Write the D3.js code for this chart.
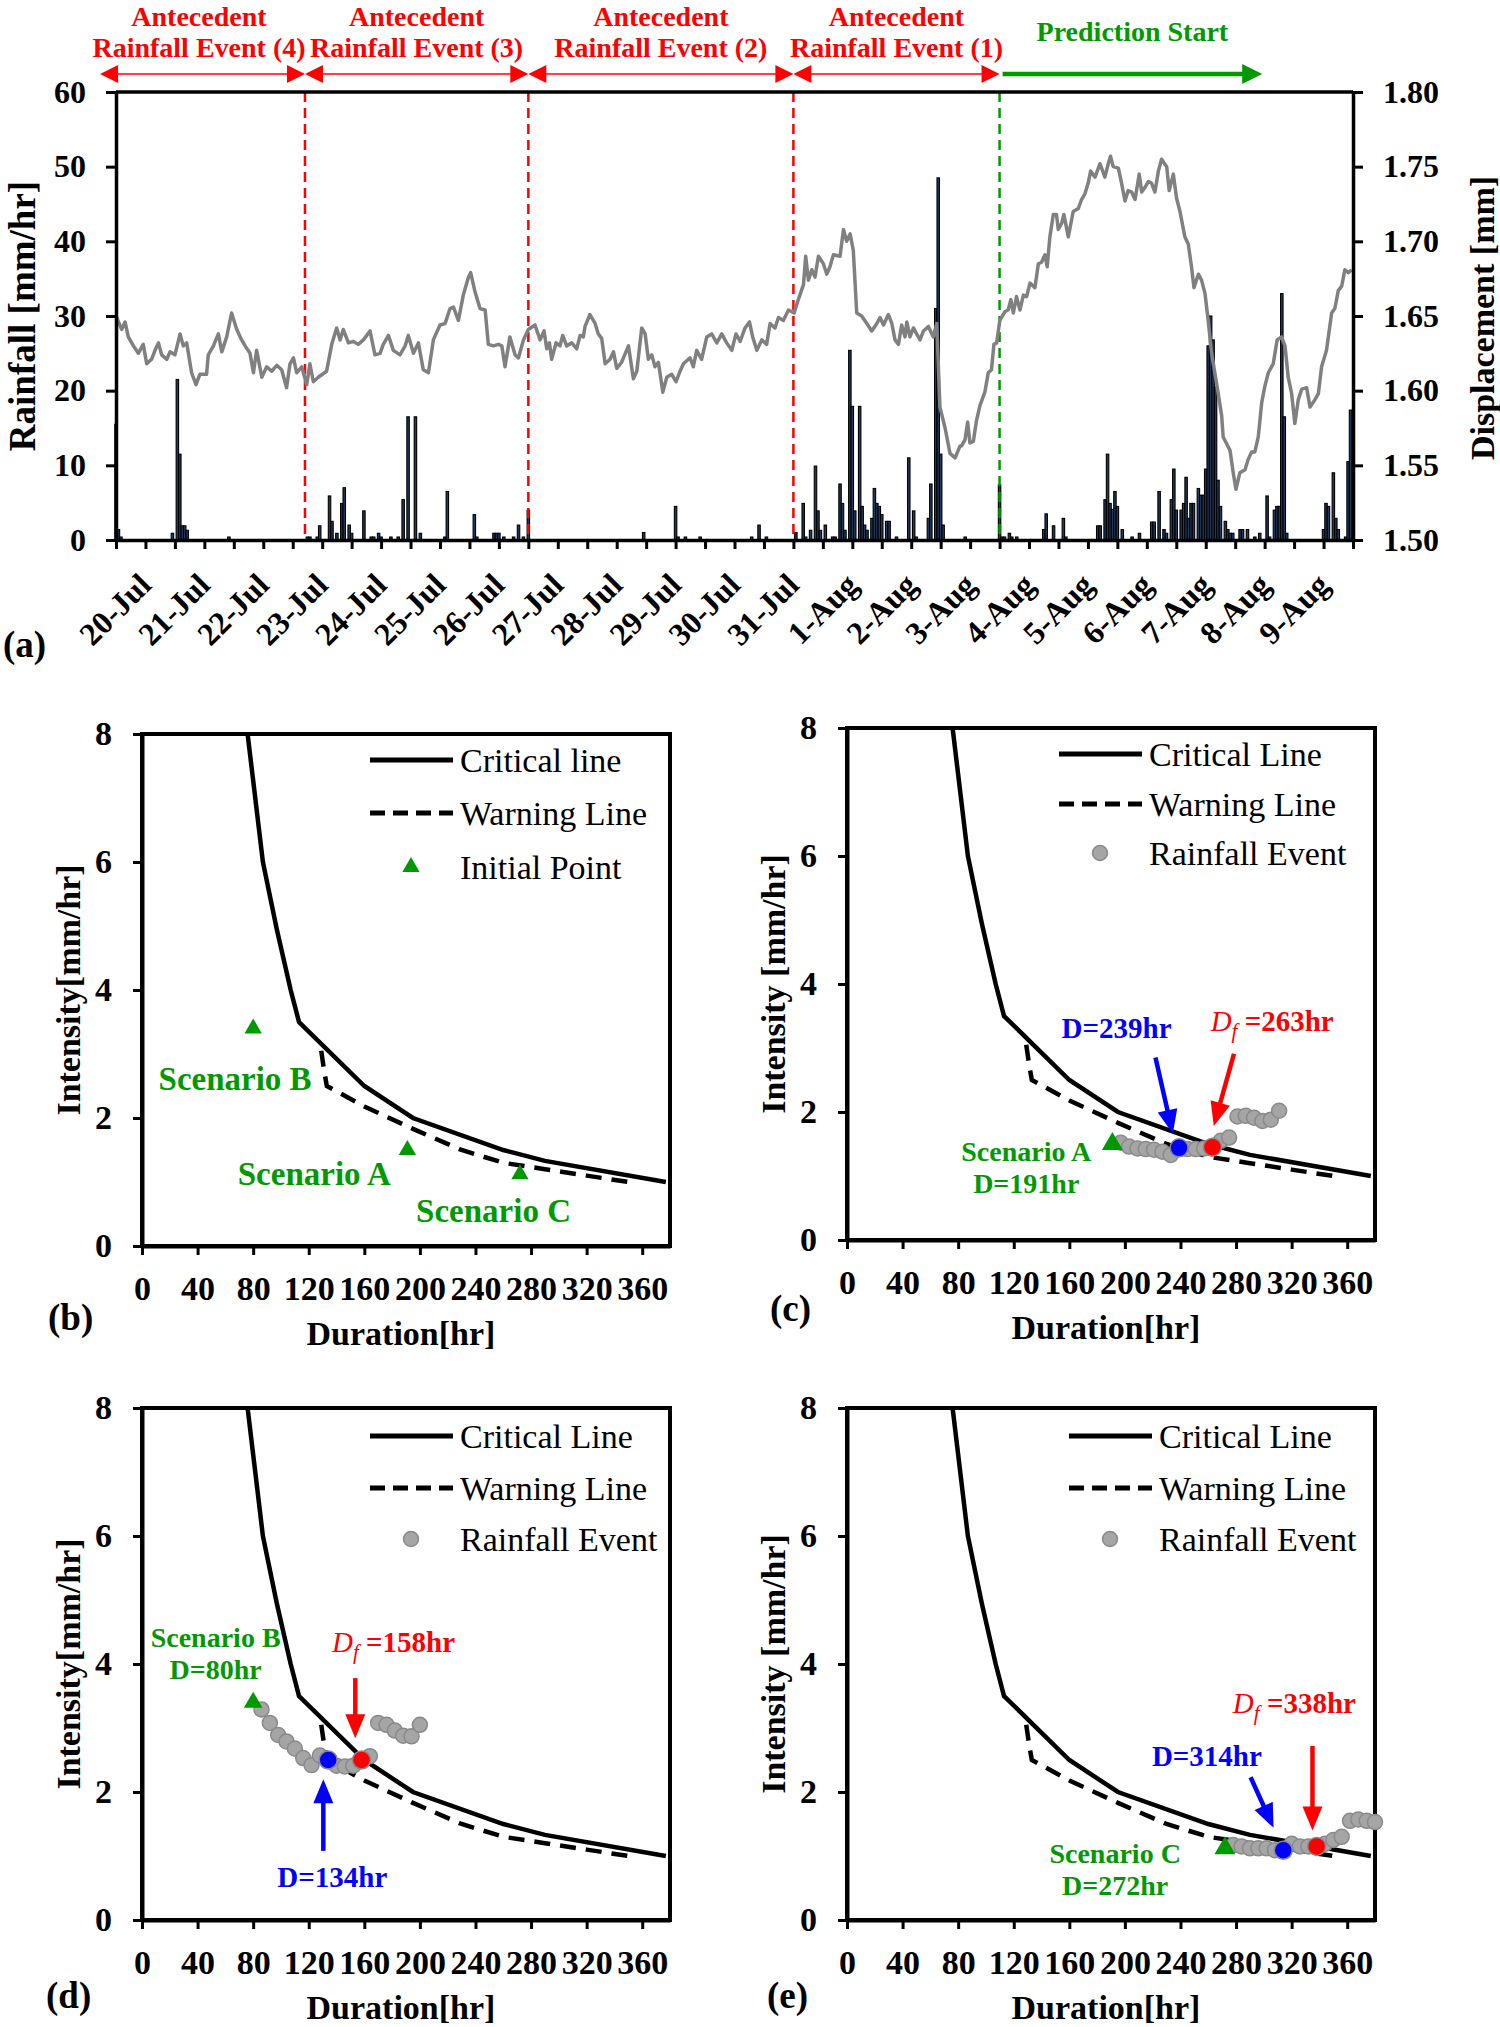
<!DOCTYPE html>
<html>
<head>
<meta charset="utf-8">
<script src="https://cdn.jsdelivr.net/npm/d3@7"></script>
<style>
  body { margin: 0; background: #fff; }
  svg { display: block; background: #fff; }
</style>
</head>
<body>
<div id="chart"></div>
<script>
// ---------- panel (a): hours counted from 19-Jul 12:00 ----------
const dispHour = [0, 2.3, 3.7, 5.0, 7.1, 9.1, 11.1, 12.5, 14.5, 15.9, 17.3, 18.6, 20.7, 22.0, 24.0, 26.1, 27.4, 28.8, 30.8, 32.6,
  34.2, 36.9, 37.6, 39.7, 41.7, 43.1, 45.1, 47.1, 49.2, 51.2, 52.6, 54.6, 56.0, 57.3, 59.4, 61.4, 63.4, 65.5, 67.5, 69.5,
  70.9, 72.3, 73.6, 75.7, 77.7, 79.0, 80.4, 82.4, 85.8, 87.9, 89.9, 91.3, 92.6, 94.7, 96.7, 98.7, 100.8, 103.5, 105.5, 107.6,
  108.9, 111.0, 113.0, 115.7, 117.8, 119.1, 121.2, 123.2, 125.2, 127.3, 129.3, 132.0, 134.1, 136.1, 137.5, 139.5, 141.5, 143.6, 144.5, 146.3,
  148.3, 150.4, 151.7, 153.8, 155.8, 157.2, 158.5, 160.5, 162.6, 164.0, 166.0, 168.0, 170.7, 172.8, 174.4, 175.5, 176.6, 177.5, 179.3, 180.9,
  182.0, 183.6, 185.7, 187.7, 189.1, 190.4, 191.1, 193.1, 195.2, 196.5, 197.9, 199.3, 201.3, 202.7, 204.0, 206.0, 208.8, 210.8, 212.2, 214.2,
  215.6, 216.9, 218.3, 219.6, 221.0, 222.8, 224.4, 226.4, 228.2, 229.8, 231.2, 233.9, 235.2, 236.6, 238.6, 240.7, 242.7, 244.8, 246.8, 248.8,
  250.9, 252.6, 254.3, 256.3, 258.1, 259.4, 261.1, 263.1, 265.1, 266.5, 268.5, 269.9, 271.9, 274.0, 276.3, 278.0, 280.1, 281.0, 282.1, 283.5,
  284.8, 286.2, 288.2, 289.6, 290.9, 292.3, 295.0, 296.4, 297.7, 299.1, 300.4, 301.8, 303.8, 305.9, 307.9, 310.0, 311.3, 312.7, 314.7, 316.1,
  317.4, 318.8, 320.1, 321.5, 322.2, 323.5, 324.9, 326.2, 327.6, 329.0, 331.0, 333.0, 334.4, 335.7, 337.8, 339.8, 341.9, 343.9, 344.5, 345.9,
  347.0, 347.9, 349.3, 350.6, 352.0, 354.0, 355.4, 356.7, 357.7, 358.8, 360.1, 362.2, 363.5, 364.6, 365.6, 366.9, 368.3, 369.7, 371.0, 372.4,
  374.4, 375.8, 377.1, 378.5, 379.4, 380.5, 381.9, 383.2, 383.9, 385.3, 386.2, 388.0, 390.0, 392.1, 393.4, 394.8, 396.1, 397.1, 398.9, 400.9,
  402.9, 404.3, 405.2, 406.3, 408.4, 409.7, 411.1, 412.4, 413.8, 415.2, 416.9, 417.9, 419.2, 420.6, 421.9, 423.3, 424.7, 426.0, 428.1, 429.1,
  430.8, 432.1, 433.5, 435.5, 436.9, 438.2, 439.2, 441.0, 442.3, 443.7, 445.0, 446.4, 447.7, 449.1, 450.5, 451.1, 453.9, 455.2, 456.3, 457.9,
  460.0, 461.3, 462.7, 464.0, 465.4, 466.8, 468.1, 469.5, 471.5, 473.1, 474.9, 476.3, 477.6, 479.0, 480.3, 481.7, 483.1, 485.1, 486.5, 488.5,
  489.9, 491.2, 493.2, 495.3, 496.6, 498.0, 499.4, 500.7, 502.1, 503.4];
const dispMm = [1.650, 1.641, 1.646, 1.636, 1.630, 1.625, 1.631, 1.618, 1.621, 1.627, 1.632, 1.624, 1.621, 1.626, 1.624, 1.638, 1.630, 1.632, 1.612, 1.604,
  1.611, 1.611, 1.624, 1.630, 1.638, 1.626, 1.636, 1.652, 1.641, 1.634, 1.630, 1.625, 1.612, 1.627, 1.609, 1.616, 1.613, 1.617, 1.614, 1.602,
  1.618, 1.622, 1.612, 1.616, 1.604, 1.618, 1.606, 1.609, 1.613, 1.631, 1.642, 1.634, 1.641, 1.632, 1.633, 1.631, 1.634, 1.640, 1.624, 1.625,
  1.631, 1.637, 1.627, 1.624, 1.630, 1.637, 1.625, 1.632, 1.614, 1.612, 1.634, 1.644, 1.645, 1.655, 1.656, 1.647, 1.664, 1.676, 1.679, 1.666,
  1.655, 1.654, 1.631, 1.630, 1.631, 1.630, 1.616, 1.636, 1.624, 1.622, 1.634, 1.641, 1.644, 1.634, 1.640, 1.628, 1.632, 1.621, 1.632, 1.630,
  1.637, 1.630, 1.632, 1.628, 1.637, 1.636, 1.643, 1.651, 1.645, 1.638, 1.635, 1.618, 1.621, 1.626, 1.615, 1.619, 1.630, 1.608, 1.613, 1.642,
  1.638, 1.621, 1.624, 1.616, 1.619, 1.599, 1.609, 1.611, 1.606, 1.613, 1.618, 1.622, 1.616, 1.627, 1.621, 1.636, 1.638, 1.632, 1.638, 1.632,
  1.627, 1.638, 1.633, 1.642, 1.646, 1.636, 1.627, 1.634, 1.631, 1.645, 1.642, 1.649, 1.647, 1.654, 1.652, 1.661, 1.671, 1.690, 1.674, 1.681,
  1.676, 1.690, 1.685, 1.678, 1.683, 1.691, 1.690, 1.708, 1.700, 1.705, 1.694, 1.652, 1.650, 1.645, 1.640, 1.645, 1.649, 1.644, 1.651, 1.645,
  1.634, 1.631, 1.644, 1.636, 1.646, 1.636, 1.642, 1.638, 1.634, 1.640, 1.643, 1.636, 1.645, 1.589, 1.575, 1.558, 1.555, 1.563, 1.563, 1.567,
  1.579, 1.565, 1.566, 1.580, 1.590, 1.599, 1.612, 1.614, 1.631, 1.632, 1.647, 1.653, 1.654, 1.661, 1.652, 1.663, 1.654, 1.664, 1.663, 1.672,
  1.669, 1.685, 1.686, 1.691, 1.683, 1.703, 1.718, 1.718, 1.708, 1.712, 1.718, 1.703, 1.720, 1.722, 1.728, 1.732, 1.739, 1.747, 1.743, 1.752,
  1.743, 1.752, 1.757, 1.750, 1.749, 1.739, 1.727, 1.734, 1.733, 1.728, 1.745, 1.733, 1.736, 1.740, 1.739, 1.733, 1.747, 1.755, 1.750, 1.734,
  1.745, 1.729, 1.720, 1.703, 1.698, 1.683, 1.669, 1.678, 1.674, 1.665, 1.647, 1.625, 1.612, 1.598, 1.583, 1.569, 1.560, 1.545, 1.534, 1.545,
  1.547, 1.554, 1.559, 1.559, 1.569, 1.592, 1.603, 1.612, 1.618, 1.634, 1.636, 1.630, 1.609, 1.598, 1.578, 1.594, 1.601, 1.602, 1.589, 1.594,
  1.598, 1.616, 1.627, 1.652, 1.655, 1.667, 1.670, 1.681, 1.679, 1.681];

const rainHour = [0, 1, 2, 23, 25, 26, 27, 28, 29, 46, 78, 79, 82, 83, 87, 88, 90, 92, 93, 95,
  96, 101, 104, 105, 107, 108, 112, 115, 117, 119, 122, 124, 134, 135, 146, 147, 154, 155, 156, 158,
  162, 164, 166, 168, 215, 228, 229, 232, 238, 259, 262, 265, 277, 280, 281, 283, 285, 286, 287, 289,
  292, 293, 295, 296, 297, 299, 300, 301, 303, 304, 305, 306, 308, 309, 310, 311, 312, 314, 315, 318,
  323, 325, 326, 331, 332, 334, 335, 336, 337, 346, 360, 361, 362, 364, 365, 367, 378, 379, 382, 386,
  387, 400, 401, 403, 404, 405, 406, 407, 408, 410, 414, 417, 422, 423, 425, 427, 428, 430, 431, 432,
  434, 435, 436, 437, 438, 439, 441, 442, 443, 444, 445, 446, 447, 448, 449, 450, 452, 453, 454, 455,
  458, 459, 461, 464, 466, 469, 470, 472, 473, 474, 475, 476, 477, 492, 493, 494, 496, 497, 498, 501,
  502, 503];
const rainMm = [15.5, 1.4, 0.4, 0.9, 21.5, 11.5, 1.9, 1.9, 1.3, 0.4, 0.4, 0.4, 0.4, 1.9, 5.9, 2.5, 0.9, 4.9, 7.0, 2.0,
  0.9, 3.9, 0.4, 0.4, 0.9, 0.4, 0.4, 0.4, 5.4, 16.5, 16.5, 0.9, 0.4, 6.5, 3.4, 0.4, 0.9, 0.9, 0.9, 0.4,
  0.4, 2.0, 0.4, 4.0, 1.0, 4.5, 0.4, 0.4, 0.4, 0.4, 2.0, 0.4, 1.0, 4.9, 0.4, 1.3, 9.9, 3.9, 1.3, 2.0,
  0.4, 0.4, 7.5, 4.9, 1.3, 25.4, 17.9, 3.9, 17.9, 4.5, 2.0, 1.3, 2.9, 6.9, 4.9, 4.5, 3.4, 2.5, 2.5, 0.4,
  11.0, 3.9, 0.4, 2.9, 7.5, 31.0, 48.5, 11.5, 2.0, 0.4, 7.4, 0.4, 0.4, 0.9, 0.4, 0.4, 1.4, 3.5, 1.9, 2.9,
  0.4, 1.9, 1.9, 5.4, 11.5, 4.9, 4.1, 6.5, 4.5, 1.4, 0.4, 0.9, 2.4, 2.4, 6.5, 1.4, 0.9, 5.4, 9.5, 4.0,
  4.0, 4.9, 8.4, 2.9, 4.9, 4.9, 6.9, 6.0, 6.0, 9.5, 26.0, 30.0, 26.8, 20.5, 8.0, 4.5, 2.5, 1.4, 0.9, 0.9,
  1.4, 1.4, 1.4, 0.4, 0.9, 5.9, 0.4, 4.0, 4.5, 4.5, 33.0, 16.5, 0.9, 1.4, 4.9, 4.5, 9.0, 2.9, 1.4, 0.4,
  10.5, 17.4];

const rainTicks = [0, 10, 20, 30, 40, 50, 60];
const dispTicks = [1.50, 1.55, 1.60, 1.65, 1.70, 1.75, 1.80];
const eventBounds = [-6.5, 77, 168, 276, 360];     // antecedent arrows, hours
const eventNames = ["Rainfall Event (4)", "Rainfall Event (3)", "Rainfall Event (2)", "Rainfall Event (1)"];
const predictionSpan = [360, 467];

// ---------- panels (b)-(e): intensity vs duration ----------
const durTicks = [0, 40, 80, 120, 160, 200, 240, 280, 320, 360];
const intTicks = [0, 2, 4, 6, 8];
const critD = [76, 87, 97, 107, 113, 160, 195, 260, 290, 377];
const critI = [8, 6, 4.95, 4, 3.5, 2.5, 2.0, 1.5, 1.33, 1.0];
const warnD = [129, 131, 133, 160, 195, 230, 260, 290, 320, 350];
const warnI = [3.05, 2.75, 2.5, 2.18, 1.83, 1.5, 1.3, 1.2, 1.1, 1.0];
const scenName = ["Scenario A", "Scenario B", "Scenario C"];
const scenD = [191, 80, 272];
const scenI = [1.5, 3.4, 1.12];
const eventA_D = [197, 203, 209, 215, 221, 227, 233, 239, 245, 251, 257, 263, 269, 275, 281, 287, 293, 299, 305, 311];
const eventA_I = [1.52, 1.46, 1.43, 1.42, 1.41, 1.38, 1.33, 1.44, 1.42, 1.42, 1.43, 1.45, 1.55, 1.60, 1.93, 1.94, 1.91, 1.86, 1.88, 2.02];
const eventB_D = [86, 92, 98, 104, 110, 116, 122, 128, 134, 140, 146, 152, 158, 164, 170, 176, 182, 188, 194, 200];
const eventB_I = [3.29, 3.08, 2.89, 2.79, 2.68, 2.53, 2.42, 2.57, 2.50, 2.41, 2.40, 2.41, 2.50, 2.56, 3.08, 3.05, 2.96, 2.88, 2.87, 3.05];
const eventC_D = [278, 284, 290, 296, 302, 308, 314, 320, 326, 332, 338, 344, 350, 356, 362, 368, 374, 380];
const eventC_I = [1.17, 1.15, 1.12, 1.12, 1.12, 1.09, 1.09, 1.19, 1.15, 1.15, 1.15, 1.19, 1.25, 1.30, 1.55, 1.57, 1.55, 1.53];
const warnD_hit = [239, 134, 314];   // D at warning (blue)
const failD_hit = [263, 158, 338];   // Df at failure (red)

const SERIF = "'Liberation Serif', 'Times New Roman', serif";
const GREEN = "#009a00", RED = "#ff0000", BLUE = "#0000ff";

const svg = d3.select("#chart").append("svg")
    .attr("width", 1500).attr("height", 2027)
    .attr("font-family", SERIF);

function styleAxis(g, size, w) {
  g.attr("font-family", SERIF).attr("font-size", size).attr("font-weight", "bold");
  g.select(".domain").attr("stroke", "#000").attr("stroke-width", w);
  g.selectAll(".tick line").attr("stroke", "#000").attr("stroke-width", 3);
  g.selectAll(".tick text").attr("fill", "#000");
}

function arrow(g, x1, y1, x2, y2, color, width, len, half, both) {
  const a = Math.atan2(y2 - y1, x2 - x1);
  const head = (tx, ty, ang) => {
    const bx = tx - len * Math.cos(ang), by = ty - len * Math.sin(ang);
    const px = -Math.sin(ang) * half, py = Math.cos(ang) * half;
    g.append("path")
      .attr("d", `M${tx},${ty}L${bx + px},${by + py}L${bx - px},${by - py}Z`)
      .attr("fill", color);
  };
  const cut = len * 0.7;
  g.append("line")
    .attr("x1", both ? x1 + cut * Math.cos(a) : x1).attr("y1", both ? y1 + cut * Math.sin(a) : y1)
    .attr("x2", x2 - cut * Math.cos(a)).attr("y2", y2 - cut * Math.sin(a))
    .attr("stroke", color).attr("stroke-width", width);
  head(x2, y2, a);
  if (both) head(x1, y1, a + Math.PI);
}

// ================= (a) =================
const t0 = Date.UTC(2000, 6, 19, 12);
const hr = h => new Date(t0 + h * 3600e3);
const x = d3.scaleUtc().domain([hr(0), hr(504)]).range([116, 1353]);
const yRain = d3.scaleLinear().domain([0, 60]).range([540, 92]);
const yDisp = d3.scaleLinear().domain([1.5, 1.8]).range([540, 92]);
const ga = svg.append("g");

const bw = x(hr(1)) - x(hr(0));
ga.append("g").selectAll("rect")
  .data(d3.zip(rainHour, rainMm))
  .join("rect")
    .attr("x", d => x(hr(d[0])) - bw / 2)
    .attr("y", d => yRain(d[1]))
    .attr("width", bw)
    .attr("height", d => yRain(0) - yRain(d[1]))
    .attr("fill", "#23395b")
    .attr("stroke", "#000")
    .attr("stroke-width", 1.1);

// event separators
ga.append("g").selectAll("line")
  .data(eventBounds.slice(1))
  .join("line")
    .attr("x1", d => x(hr(d))).attr("x2", d => x(hr(d)))
    .attr("y1", yRain(60)).attr("y2", yRain(0))
    .attr("stroke", (d, i) => i === 3 ? GREEN : RED)
    .attr("stroke-width", 2.5)
    .attr("stroke-dasharray", "10,6");

ga.append("path")
  .datum(d3.zip(dispHour, dispMm))
  .attr("fill", "none")
  .attr("stroke", "#808080")
  .attr("stroke-width", 3.5)
  .attr("stroke-linejoin", "round")
  .attr("d", d3.line().x(d => x(hr(d[0]))).y(d => yDisp(d[1])));

const fmtDay = d3.utcFormat("%-d-%b");
const ax = ga.append("g").attr("transform", "translate(0,540)")
  .call(d3.axisBottom(x).ticks(d3.utcHour.every(12)).tickSize(9).tickSizeOuter(0)
    .tickFormat(d => (d.getUTCHours() === 0 && +d < +hr(504)) ? fmtDay(d) : ""));
styleAxis(ax, 32, 3.5);
ax.selectAll(".tick text")
  .attr("y", 0).attr("dy", 0)
  .attr("text-anchor", "end")
  .attr("transform", "translate(7,47) rotate(-45)");

const ayl = ga.append("g").attr("transform", "translate(116,0)")
  .call(d3.axisLeft(yRain).tickValues(rainTicks).tickSize(10).tickPadding(20).tickSizeOuter(0));
styleAxis(ayl, 32, 3.5);
const ayr = ga.append("g").attr("transform", "translate(1353,0)")
  .call(d3.axisRight(yDisp).tickValues(dispTicks).tickSize(10).tickPadding(20).tickSizeOuter(0)
    .tickFormat(d3.format(".2f")));
styleAxis(ayr, 32, 3.5);
ga.append("line").attr("x1", 116).attr("x2", 1353).attr("y1", 92).attr("y2", 92)
  .attr("stroke", "#000").attr("stroke-width", 3.5);

ga.append("text").attr("transform", "translate(22,316) rotate(-90)")
  .attr("text-anchor", "middle").attr("dy", "0.35em")
  .attr("font-size", 37).attr("font-weight", "bold").text("Rainfall [mm/hr]");
ga.append("text").attr("transform", "translate(1482,318) rotate(-90)")
  .attr("text-anchor", "middle").attr("dy", "0.35em")
  .attr("font-size", 34).attr("font-weight", "bold").text("Displacement [mm]");
ga.append("text").attr("x", 3).attr("y", 657)
  .attr("font-size", 37).attr("font-weight", "bold").text("(a)");

// top annotations
eventNames.forEach((name, i) => {
  const xa = x(hr(eventBounds[i])), xb = x(hr(eventBounds[i + 1]));
  arrow(ga, xa, 74, xb, 74, RED, 1.6, 18, 9, true);
  // the first label is kept inside its own arrow (it would run into the next one)
  const cx = i === 0 ? xb - 106 : (xa + xb) / 2;
  const t = ga.append("text").attr("text-anchor", "middle")
    .attr("fill", RED).attr("font-size", 28).attr("font-weight", "bold");
  t.append("tspan").attr("x", cx).attr("y", 26).text("Antecedent");
  t.append("tspan").attr("x", cx).attr("y", 57).text(name);
});
{
  const xa = x(hr(predictionSpan[0])) + 3, xb = x(hr(predictionSpan[1]));
  arrow(ga, xa, 74, xb, 74, GREEN, 4.5, 20, 10, false);
  ga.append("text").attr("x", (xa + xb) / 2).attr("y", 41).attr("text-anchor", "middle")
    .attr("fill", GREEN).attr("font-size", 28).attr("font-weight", "bold").text("Prediction Start");
}

// ================= (b)-(e) =================
const PW = 528, PH = 512;
const panels = [
  { tag: "(b)", left: 142, top: 734, yTitle: "Intensity[mm/hr]", legX: 228, rows: [26, 79, 133],
    legend: ["Critical line", "Warning Line", "Initial Point"], scen: [0, 1, 2], tri: 130,
    scenText: [[124, 0.95], [67, 2.43], [253, 0.37]], scenSize: 33, labX: -94, labY: 84 },
  { tag: "(c)", left: 847, top: 728, yTitle: "Intensity [mm/hr]", legX: 212, rows: [26, 76, 125],
    legend: ["Critical Line", "Warning Line", "Rainfall Event"], scen: [0], tri: 190, ev: 0,
    scenText: [[129, 1.24]], scenSize: 28, labX: -77, labY: 81,
    blueText: [194, 3.16], blueArrow: [222, 2.85, 234.5, 1.66],
    redText: [306, 3.26], redArrow: [278.5, 2.91, 264, 1.78] },
  { tag: "(d)", left: 142, top: 1408, yTitle: "Intensity[mm/hr]", legX: 228, rows: [28, 80, 131],
    legend: ["Critical Line", "Warning Line", "Rainfall Event"], scen: [1], tri: 150, ev: 1,
    scenText: [[53, 4.26]], scenSize: 28, labX: -96, labY: 88,
    blueText: [137, 0.52], blueArrow: [130.5, 1.08, 130.5, 2.2],
    redText: [181, 4.19], redArrow: [153.5, 3.78, 153.5, 2.84] },
  { tag: "(e)", left: 847, top: 1408, yTitle: "Intensity [mm/hr]", legX: 222, rows: [28, 80, 131],
    legend: ["Critical Line", "Warning Line", "Rainfall Event"], scen: [2], tri: 190, ev: 2,
    scenText: [[193, 0.89]], scenSize: 28, labX: -80, labY: 88,
    blueText: [259, 2.40], blueArrow: [290.5, 2.23, 307, 1.44],
    redText: [322, 3.23], redArrow: [335, 2.72, 335, 1.40] }
];
const events = [[eventA_D, eventA_I], [eventB_D, eventB_I], [eventC_D, eventC_I]];

function grayDot(g, cx, cy, r, fill) {
  g.append("circle").attr("cx", cx).attr("cy", cy).attr("r", r)
    .attr("fill", fill).attr("stroke", "#8a8a8a").attr("stroke-width", 1.5);
}

panels.forEach(p => {
  const g = svg.append("g");
  const xs = d3.scaleLinear().domain([0, 380]).range([p.left, p.left + PW]);
  const ys = d3.scaleLinear().domain([0, 8]).range([p.top + PH, p.top]);

  const axb = g.append("g").attr("transform", `translate(0,${p.top + PH})`)
    .call(d3.axisBottom(xs).tickValues(durTicks).tickSize(9).tickPadding(21).tickSizeOuter(0));
  styleAxis(axb, 34, 4);
  const axl = g.append("g").attr("transform", `translate(${p.left},0)`)
    .call(d3.axisLeft(ys).tickValues(intTicks).tickSize(9).tickPadding(21).tickSizeOuter(0));
  styleAxis(axl, 34, 4);
  g.append("rect").attr("x", p.left).attr("y", p.top).attr("width", PW).attr("height", PH)
    .attr("fill", "none").attr("stroke", "#000").attr("stroke-width", 4);

  const line = d3.line().x(d => xs(d[0])).y(d => ys(d[1]));
  g.append("path").datum(d3.zip(warnD, warnI)).attr("d", line)
    .attr("fill", "none").attr("stroke", "#000").attr("stroke-width", 4.5).attr("stroke-dasharray", "16,10");
  g.append("path").datum(d3.zip(critD, critI)).attr("d", line)
    .attr("fill", "none").attr("stroke", "#000").attr("stroke-width", 4.5);

  // legend
  const lx = p.left + p.legX;
  g.append("line").attr("x1", lx).attr("x2", lx + 83).attr("y1", p.top + p.rows[0]).attr("y2", p.top + p.rows[0])
    .attr("stroke", "#000").attr("stroke-width", 5);
  g.append("line").attr("x1", lx).attr("x2", lx + 83).attr("y1", p.top + p.rows[1]).attr("y2", p.top + p.rows[1])
    .attr("stroke", "#000").attr("stroke-width", 5).attr("stroke-dasharray", "15,8");
  if (p.ev === undefined) {
    g.append("path").attr("d", d3.symbol(d3.symbolTriangle, 130)())
      .attr("transform", `translate(${lx + 41},${p.top + p.rows[2]})`).attr("fill", GREEN);
  } else {
    grayDot(g, lx + 41, p.top + p.rows[2], 7.5, "#a5a5a5");
  }
  p.legend.forEach((s, i) => {
    g.append("text").attr("x", lx + 90).attr("y", p.top + p.rows[i]).attr("dy", "0.35em")
      .attr("font-size", 34).text(s);
  });

  // rainfall event path
  if (p.ev !== undefined) {
    const [eD, eI] = events[p.ev];
    eD.forEach((d, i) => grayDot(g, xs(d), ys(eI[i]), 7.5, "#a5a5a5"));
    const bi = eD.indexOf(warnD_hit[p.ev]), ri = eD.indexOf(failD_hit[p.ev]);
    g.append("circle").attr("cx", xs(eD[bi])).attr("cy", ys(eI[bi])).attr("r", 9)
      .attr("fill", BLUE).attr("stroke", "#8a8a8a").attr("stroke-width", 1.5);
    g.append("circle").attr("cx", xs(eD[ri])).attr("cy", ys(eI[ri])).attr("r", 9)
      .attr("fill", RED).attr("stroke", "#8a8a8a").attr("stroke-width", 1.5);

    const [b1, b2, b3, b4] = p.blueArrow;
    arrow(g, xs(b1), ys(b2), xs(b3), ys(b4), BLUE, 4.5, 24, 10, false);
    const [r1, r2, r3, r4] = p.redArrow;
    arrow(g, xs(r1), ys(r2), xs(r3), ys(r4), RED, 4.5, 24, 10, false);
    g.append("text").attr("x", xs(p.blueText[0])).attr("y", ys(p.blueText[1]))
      .attr("text-anchor", "middle").attr("fill", BLUE).attr("font-size", 29).attr("font-weight", "bold")
      .text(`D=${warnD_hit[p.ev]}hr`);
    const t = g.append("text").attr("x", xs(p.redText[0])).attr("y", ys(p.redText[1]))
      .attr("text-anchor", "middle").attr("fill", RED).attr("font-size", 29);
    t.append("tspan").attr("font-style", "italic").text("D");
    t.append("tspan").attr("font-style", "italic").attr("font-size", 21).attr("dy", 7).text("f");
    t.append("tspan").attr("font-weight", "bold").attr("dy", -7).text(` =${failD_hit[p.ev]}hr`);
  }

  // scenario start points
  p.scen.forEach((si, k) => {
    g.append("path").attr("d", d3.symbol(d3.symbolTriangle, p.tri)())
      .attr("transform", `translate(${xs(scenD[si])},${ys(scenI[si])})`).attr("fill", GREEN);
    const [tx, ty] = p.scenText[k];
    const t = g.append("text").attr("text-anchor", "middle").attr("fill", GREEN)
      .attr("font-size", p.scenSize).attr("font-weight", "bold");
    t.append("tspan").attr("x", xs(tx)).attr("y", ys(ty)).text(scenName[si]);
    if (p.ev !== undefined) {
      t.append("tspan").attr("x", xs(tx)).attr("dy", 32).text(`D=${scenD[si]}hr`);
    }
  });

  // titles
  g.append("text").attr("transform", `translate(${p.left - 74},${p.top + PH / 2}) rotate(-90)`)
    .attr("text-anchor", "middle").attr("dy", "0.35em")
    .attr("font-size", 34).attr("font-weight", "bold").text(p.yTitle);
  g.append("text").attr("x", p.left + PW / 2 - 5).attr("y", p.top + PH + 99)
    .attr("text-anchor", "middle").attr("font-size", 34).attr("font-weight", "bold").text("Duration[hr]");
  g.append("text").attr("x", p.left + p.labX).attr("y", p.top + PH + p.labY)
    .attr("font-size", 37).attr("font-weight", "bold").text(p.tag);
});
</script>
</body>
</html>
